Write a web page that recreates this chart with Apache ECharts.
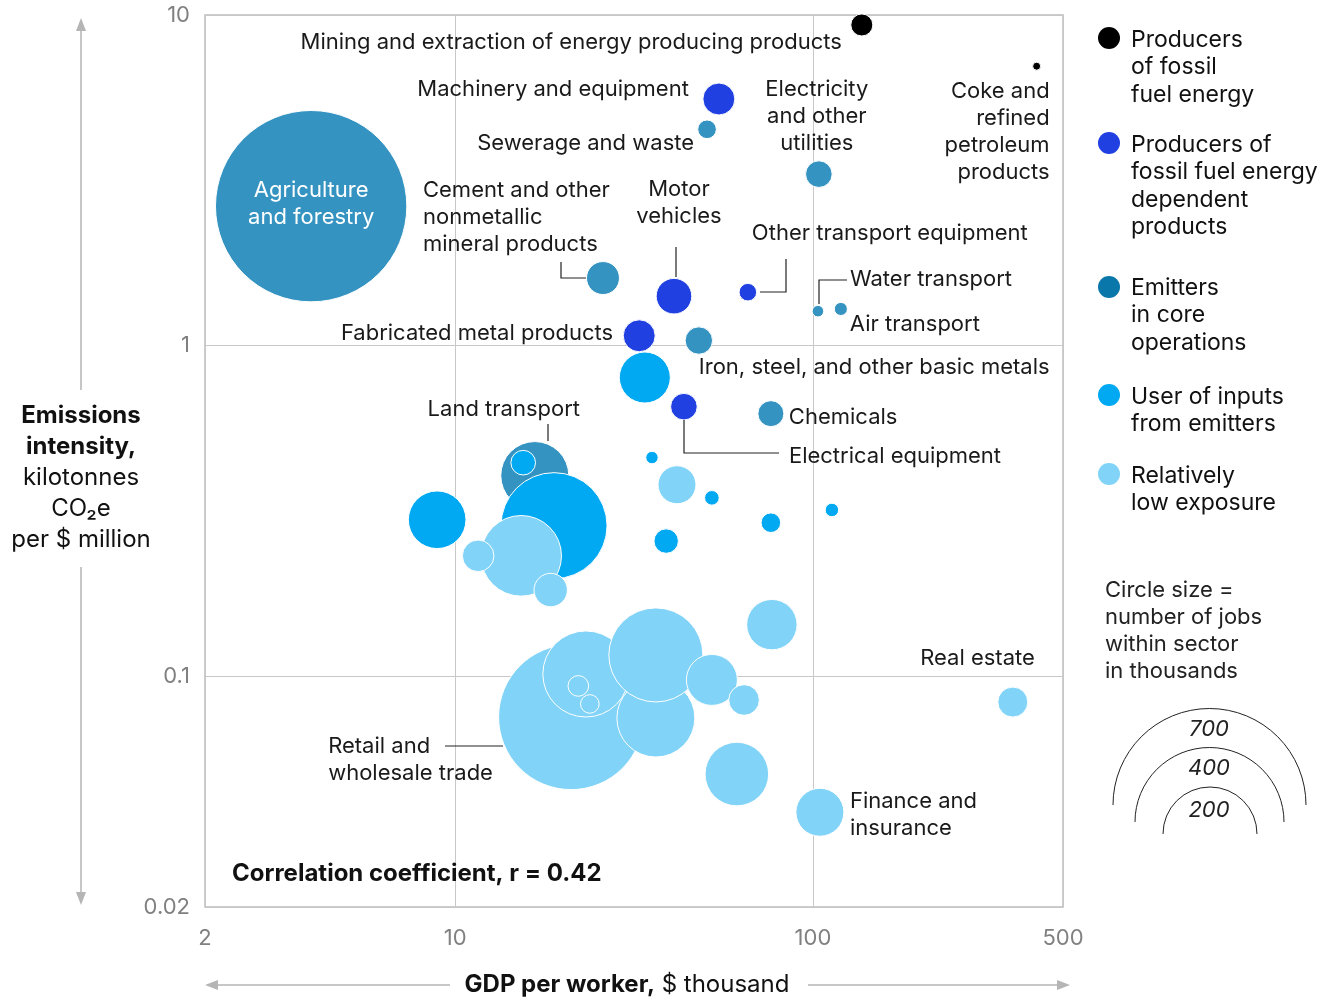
<!DOCTYPE html>
<html><head><meta charset="utf-8">
<script src="https://cdn.jsdelivr.net/npm/echarts@6/dist/echarts.min.js"></script>
<style>html,body{margin:0;padding:0;background:#fff}#c{width:1332px;height:1000px}</style>
</head><body><div id="c"></div>
<script>
// ---------- DATA ----------
const groupNames = [
  'Producers of fossil fuel energy',
  'Producers of fossil fuel energy dependent products',
  'Emitters in core operations',
  'User of inputs from emitters',
  'Relatively low exposure'
];
const sectors = [
  'Mining and extraction of energy producing products',
  'Coke and refined petroleum products',
  'Machinery and equipment',
  'Motor vehicles',
  'Other transport equipment',
  'Fabricated metal products',
  'Electrical equipment',
  'Agriculture and forestry',
  'Sewerage and waste',
  'Electricity and other utilities',
  'Cement and other nonmetallic mineral products',
  'Water transport',
  'Air transport',
  'Iron, steel, and other basic metals',
  'Chemicals',
  'Land transport',
  'User sector A', 'User sector B', 'User sector C', 'User sector D', 'User sector E',
  'User sector F', 'User sector G', 'User sector H', 'User sector I',
  'Low exposure A', 'Low exposure B', 'Low exposure C', 'Low exposure D', 'Low exposure E',
  'Retail and wholesale trade',
  'Low exposure F', 'Low exposure G', 'Low exposure H', 'Low exposure I', 'Low exposure J',
  'Low exposure K', 'Low exposure L', 'Low exposure M',
  'Finance and insurance',
  'Real estate'
];
const gdpPerWorker = [
  137, 422,
  54.6, 40.9, 65.8, 32.7, 43.6,
  3.96, 50.6, 103.9, 25.9, 103.3, 119.7, 48.0, 76.3, 16.7,
  33.9, 18.9, 15.5, 8.91, 35.5, 52.2, 76.3, 113, 38.9,
  15.3, 11.6, 18.5, 41.7, 76.8,
  21.1,
  36.4, 23.2, 36.4, 52.2, 64.2, 61.3, 22.1, 23.8,
  104.6, 362
];
const emissionsIntensity = [
  9.33, 7.0,
  5.57, 1.41, 1.45, 1.07, 0.653,
  2.64, 4.51, 3.30, 1.60, 1.27, 1.29, 1.035, 0.622, 0.404,
  0.80, 0.285, 0.442, 0.297, 0.458, 0.346, 0.291, 0.318, 0.256,
  0.231, 0.231, 0.182, 0.379, 0.143,
  0.0751,
  0.0746, 0.1014, 0.1158, 0.0973, 0.0846, 0.0505, 0.0933, 0.0823,
  0.0387, 0.0834
];
const jobsThousands = [
  9.1, 1.2,
  19.2, 23.8, 5.8, 19.2, 13.3,
  687, 6.5, 13.3, 20.4, 2.5, 3.2, 14.1, 12.7, 86.8,
  48.8, 211, 11.4, 62.3, 2.9, 4.0, 7.2, 3.4, 11.2,
  122, 18.7, 20.9, 27.1, 47.7,
  395,
  114, 139, 166, 48.8, 17.6, 75.9, 8.0, 6.5,
  43.2, 16.9
];
const exposureGroup = [
  0, 0,
  1, 1, 1, 1, 1,
  2, 2, 2, 2, 2, 2, 2, 2, 2,
  3, 3, 3, 3, 3, 3, 3, 3, 3,
  4, 4, 4, 4, 4,
  4,
  4, 4, 4, 4, 4, 4, 4, 4,
  4, 4
];
const sectorLabels = {
  'Mining and extraction of energy producing products': 'Mining and extraction of energy producing products',
  'Coke and refined petroleum products': 'Coke and\nrefined\npetroleum\nproducts',
  'Machinery and equipment': 'Machinery and equipment',
  'Motor vehicles': 'Motor\nvehicles',
  'Other transport equipment': 'Other transport equipment',
  'Fabricated metal products': 'Fabricated metal products',
  'Electrical equipment': 'Electrical equipment',
  'Agriculture and forestry': 'Agriculture\nand forestry',
  'Sewerage and waste': 'Sewerage and waste',
  'Electricity and other utilities': 'Electricity\nand other\nutilities',
  'Cement and other nonmetallic mineral products': 'Cement and other\nnonmetallic\nmineral products',
  'Water transport': 'Water transport',
  'Air transport': 'Air transport',
  'Iron, steel, and other basic metals': 'Iron, steel, and other basic metals',
  'Chemicals': 'Chemicals',
  'Land transport': 'Land transport',
  'Retail and wholesale trade': 'Retail and\nwholesale trade',
  'Finance and insurance': 'Finance and\ninsurance',
  'Real estate': 'Real estate'
};
const sizeLegendValues = [700, 400, 200];
const xTickValues = [2, 10, 100, 500];
const yTickValues = [0.02, 0.1, 1, 10];
const correlationText = 'Correlation coefficient, r = 0.42';

// ---------- STYLE / LAYOUT ----------
const FONT = 'Inter, Roboto, "Liberation Sans", sans-serif';
const groupColors = ['#000000', '#2140e2', '#3493c0', '#00a9f1', '#81d3f7'];
const legendDotColors = ['#000000', '#2140e2', '#0977aa', '#00a9f1', '#81d3f7'];
const SIZE_K = 3.65; // radius px per sqrt(thousand jobs)
// label offsets relative to bubble centre (px)
const labelLayout = {
  'Mining and extraction of energy producing products': [-20, 17, 'right'],
  'Coke and refined petroleum products': [13, 66, 'right'],
  'Machinery and equipment': [-30, -10, 'right'],
  'Motor vehicles': [5, -93, 'center'],
  'Other transport equipment': [4, -59, 'left'],
  'Fabricated metal products': [-26, -2, 'right'],
  'Electrical equipment': [105, 50, 'left'],
  'Agriculture and forestry': [0, -2, 'center', '#ffffff'],
  'Sewerage and waste': [-13, 14, 'right'],
  'Electricity and other utilities': [-2, -58, 'center'],
  'Cement and other nonmetallic mineral products': [-180, -61, 'left'],
  'Water transport': [32, -32, 'left'],
  'Air transport': [9, 15, 'left'],
  'Iron, steel, and other basic metals': [0, 27, 'left'],
  'Chemicals': [18, 4, 'left'],
  'Land transport': [-31, -66, 'center'],
  'Retail and wholesale trade': [-243, 43, 'left'],
  'Finance and insurance': [30, 3, 'left'],
  'Real estate': [22, -44, 'right']
};

const chart = echarts.init(document.getElementById('c'), null, {renderer: 'canvas'});

const series = groupNames.map((g, gi) => ({
  type: 'scatter',
  name: g,
  symbolSize: v => 2 * SIZE_K * Math.sqrt(v[2]),
  itemStyle: {color: groupColors[gi], borderColor: '#ffffff', borderWidth: 1, opacity: 1},
  emphasis: {disabled: true},
  silent: true,
  data: sectors.map((s, i) => i).filter(i => exposureGroup[i] === gi).map(i => {
    const name = sectors[i];
    const item = {name: name, value: [gdpPerWorker[i], emissionsIntensity[i], jobsThousands[i]]};
    const lay = labelLayout[name];
    if (lay && sectorLabels[name]) {
      const txt = sectorLabels[name];
      item.label = {
        show: true, position: 'inside', offset: [lay[0], lay[1]],
        align: lay[2], verticalAlign: 'middle',
        formatter: () => txt,
        color: lay[3] || '#1a1a1a', fontFamily: FONT, fontSize: 22, lineHeight: 27,
        textBorderWidth: 0
      };
    }
    return item;
  })
}));

const lineStyle = {stroke: '#222', lineWidth: 1.2, fill: null};
const leaders = [
  [[561, 262], [561, 278], [586, 278]],
  [[676, 247], [676, 277]],
  [[760, 292], [786, 292], [786, 259]],
  [[819, 304], [819, 280], [847, 280]],
  [[684, 420], [684, 453], [779, 453]],
  [[548, 424], [548, 441]],
  [[445, 746], [503, 746]]
];

const graphics = [];
leaders.forEach(p => graphics.push({type: 'polyline', shape: {points: p}, style: lineStyle, z: 5, silent: true}));

// legend
const legendItems = [
  {dy: 38, ty: 40, text: 'Producers\nof fossil\nfuel energy'},
  {dy: 143, ty: 145, text: 'Producers of\nfossil fuel energy\ndependent\nproducts'},
  {dy: 287, ty: 288, text: 'Emitters\nin core\noperations'},
  {dy: 395, ty: 397, text: 'User of inputs\nfrom emitters'},
  {dy: 474, ty: 476, text: 'Relatively\nlow exposure'}
];
legendItems.forEach((it, i) => {
  graphics.push({type: 'circle', shape: {cx: 1109, cy: it.dy, r: 11}, style: {fill: legendDotColors[i]}, silent: true});
  graphics.push({type: 'text', x: 1131, y: it.ty - 13.75, style: {text: it.text, font: '23px ' + FONT, fill: '#111', lineHeight: 27.5, align: 'left', verticalAlign: 'top'}, silent: true});
});
// size legend
graphics.push({type: 'text', x: 1105, y: 590 - 13.5, style: {text: 'Circle size =\nnumber of jobs\nwithin sector\nin thousands', font: '22px ' + FONT, fill: '#222', lineHeight: 27, align: 'left', verticalAlign: 'top'}, silent: true});
const arcs = [[1209.5, 805, 96.5, 729], [1209.5, 822, 74.5, 768], [1210, 834, 47, 810]];
arcs.forEach((a, i) => {
  graphics.push({type: 'arc', shape: {cx: a[0], cy: a[1], r: a[2], startAngle: Math.PI, endAngle: 2 * Math.PI, clockwise: true}, style: {stroke: '#222', lineWidth: 1, fill: null}, silent: true});
  graphics.push({type: 'text', x: 1209, y: a[3], style: {text: String(sizeLegendValues[i]), font: 'italic 22px ' + FONT, fill: '#222', align: 'center', verticalAlign: 'middle'}, silent: true});
});
// y axis title + arrows
const axisGray = '#b5b5b5';
graphics.push({type: 'line', shape: {x1: 81, y1: 28, x2: 81, y2: 390}, style: {stroke: axisGray, lineWidth: 1.5}, silent: true});
graphics.push({type: 'polygon', shape: {points: [[81, 18], [76, 31], [86, 31]]}, style: {fill: axisGray}, silent: true});
graphics.push({type: 'line', shape: {x1: 81, y1: 567, x2: 81, y2: 895}, style: {stroke: axisGray, lineWidth: 1.5}, silent: true});
graphics.push({type: 'polygon', shape: {points: [[81, 905], [76, 892], [86, 892]]}, style: {fill: axisGray}, silent: true});
graphics.push({type: 'text', x: 81, y: 416 - 15.5, style: {
  text: '{b|Emissions}\n{b|intensity,}\n{n|kilotonnes}\n{n|CO₂e}\n{n|per $ million}',
  align: 'center', verticalAlign: 'top',
  rich: {
    b: {font: 'bold 24px ' + FONT, fill: '#111', lineHeight: 31, align: 'center'},
    n: {font: '24px ' + FONT, fill: '#111', lineHeight: 31, align: 'center'}
  }
}, silent: true});
// x axis title + arrows
graphics.push({type: 'line', shape: {x1: 215, y1: 985, x2: 450, y2: 985}, style: {stroke: axisGray, lineWidth: 1.5}, silent: true});
graphics.push({type: 'polygon', shape: {points: [[205, 985], [218, 980], [218, 990]]}, style: {fill: axisGray}, silent: true});
graphics.push({type: 'line', shape: {x1: 808, y1: 985, x2: 1060, y2: 985}, style: {stroke: axisGray, lineWidth: 1.5}, silent: true});
graphics.push({type: 'polygon', shape: {points: [[1070, 985], [1057, 980], [1057, 990]]}, style: {fill: axisGray}, silent: true});
graphics.push({type: 'text', x: 627, y: 985, style: {
  text: '{b|GDP per worker,}{n| $ thousand}',
  align: 'center', verticalAlign: 'middle',
  rich: {
    b: {font: 'bold 24px ' + FONT, fill: '#111'},
    n: {font: '24px ' + FONT, fill: '#111'}
  }
}, silent: true});
// correlation
graphics.push({type: 'text', x: 232, y: 874, style: {text: correlationText, font: 'bold 24px ' + FONT, fill: '#111', align: 'left', verticalAlign: 'middle'}, silent: true, z: 5});

chart.setOption({
  animation: false,
  backgroundColor: '#ffffff',
  grid: {left: 205, right: 269, top: 15, bottom: 93, show: true, borderColor: '#bcbcbc', borderWidth: 1.5, backgroundColor: 'transparent'},
  xAxis: {
    type: 'log', logBase: 10, min: xTickValues[0], max: xTickValues[xTickValues.length - 1],
    axisLine: {show: false}, axisTick: {show: false},
    splitLine: {show: true, lineStyle: {color: '#c8c8c8', width: 1}},
    axisLabel: {color: '#808080', fontFamily: FONT, fontSize: 22, margin: 20,
      formatter: v => { const m = xTickValues.find(t => Math.abs(t - v) / t < 1e-6); return m !== undefined ? String(m) : ''; }}
  },
  yAxis: {
    type: 'log', logBase: 10, min: yTickValues[0], max: yTickValues[yTickValues.length - 1],
    axisLine: {show: false}, axisTick: {show: false},
    splitLine: {show: true, lineStyle: {color: '#c8c8c8', width: 1}},
    axisLabel: {color: '#808080', fontFamily: FONT, fontSize: 22, margin: 15,
      formatter: v => { const m = yTickValues.find(t => Math.abs(t - v) / t < 1e-6); return m !== undefined ? String(m) : ''; }}
  },
  series: series,
  graphic: graphics
});
</script>
</body></html>
